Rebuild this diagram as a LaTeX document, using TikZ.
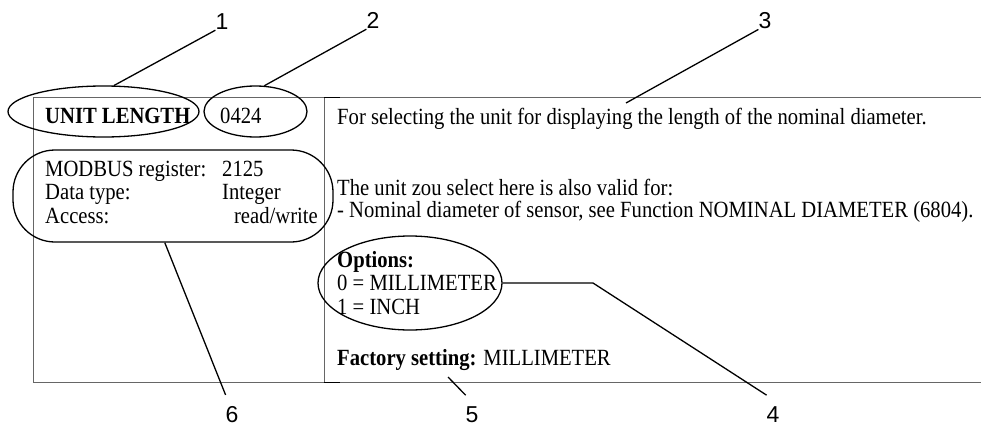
\documentclass[tikz,border=0pt]{standalone}
\usepackage{fontspec}
\setmainfont{Liberation Serif}[FakeStretch=0.89]
\newfontfamily\calloutfont{Liberation Sans}
\usetikzlibrary{positioning,shapes.geometric}

\tikzset{
  cell/.style={anchor=base west, inner sep=0pt, font=\fontsize{23.2}{24}\selectfont},
  cellbold/.style={cell, font=\fontsize{23.2}{24}\selectfont\bfseries},
  ring/.style={draw, ellipse, line width=1.3pt, inner sep=0pt},
  leader/.style={line width=1.3pt},
  rule/.style={draw=black!60, line width=1pt},
  numtop/.style={anchor=base, font=\calloutfont\fontsize{23}{23}\selectfont, inner sep=0pt},
  numbot/.style={numtop, outer xsep=0pt, outer ysep=11pt},
}

\begin{document}
\begin{tikzpicture}[x=1pt, y=-1pt]
		\useasboundingbox (0,0) rectangle (981,428);
		% table frame
		\draw[rule] (33,97) -- (981,97);
		\draw[rule] (33,382) -- (981,382);
		\draw[rule] (33,97) -- (33,382);
		\draw[rule] (324,97) -- (324,382);
		\draw[line width=1pt] (324,97) -- (340,97);
		\draw[line width=1pt] (324,382) -- (340,382);
		% left column
		\node[cellbold] (unitname) at (45,123) {UNIT LENGTH};
		\node[cell] (fcode) at (220,123) {0424};
		\node[cell] (regkey) at (45,176) {MODBUS register:};
		\node[cell] (regval) at (222,176) {2125};
		\node[cell] (typekey) at (45,199) {Data type:};
		\node[cell] (typeval) at (222,199) {Integer};
		\node[cell] (acckey) at (45,223) {Access:};
		\node[cell, anchor=base east] (accval) at (318,223) {read/write};
		% right column
		\node[cell] (descA) at (337,124) {For selecting the unit for displaying the length of the nominal diameter.};
		\node[cell] (descB) at (337,195) {The unit zou select here is also valid for:};
		\node[cell] (descC) at (337,217) {- Nominal diameter of sensor, see Function NOMINAL DIAMETER (6804).};
		\node[cellbold] (opthead) at (337,267) {Options:};
		\node[cell] (optA) at (337,290) {0 = MILLIMETER};
		\node[cell] (optB) at (337,314) {1 = INCH};
		\node[cell] (factory) at (337,365) {\textbf{Factory setting:} MILLIMETER};
		% rings
		\node[ring, minimum width=191pt, minimum height=51pt] (e1) at (103.5,111.5) {};
		\node[ring, minimum width=103pt, minimum height=51pt] (e2) at (255.5,111.5) {};
		\node[ring, minimum width=184pt, minimum height=94pt] (e4) at (410,283) {};
		\node[draw, line width=1.3pt, rounded corners=42pt, minimum width=320pt, minimum height=92pt] (e6) at (173,196) {};
		% callout numbers
		\node[numtop] (n1) at (222,30) {1};
		\node[numtop] (n2) at (373,29) {2};
		\node[numtop] (n3) at (765,29) {3};
		\node[numbot] (n4) at (773,422) {4};
		\node[numbot] (n5) at (472,422) {5};
		\node[numbot] (n6) at (232,422) {6};
		\coordinate (c3) at (626,103);
		\coordinate (k4) at (593,283);
		\coordinate (c5) at (448,377);
		% leaders
		\draw[leader] (n1.south west) -- (e1.68);
		\draw[leader] (n2.south west) -- (e2.71);
		\draw[leader] (n3.south west) -- (c3);
		\draw[leader] (e4.east) -- (k4) -- (n4.north west);
		\draw[leader] (c5) -- (n5.north west);
		\draw[leader] (e6.-100) -- (n6.north west);
\end{tikzpicture}
\end{document}
